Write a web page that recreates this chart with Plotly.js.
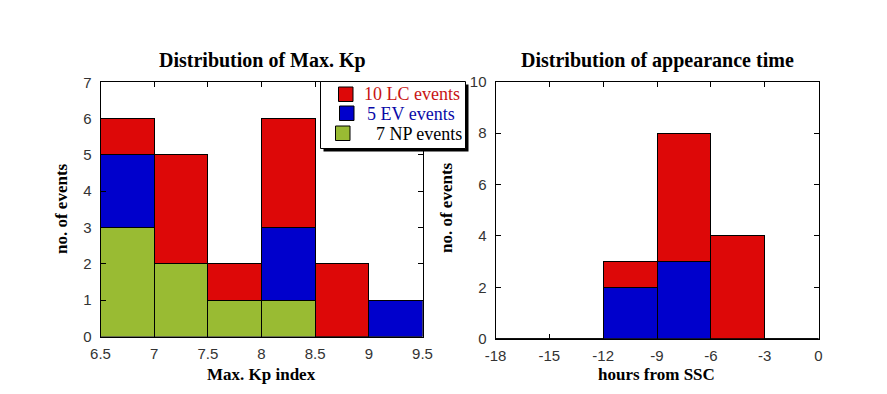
<!DOCTYPE html>
<html>
<head>
<meta charset="utf-8">
<script src="https://cdn.plot.ly/plotly-3.0.1.min.js"></script>
<style>html,body{margin:0;padding:0;background:#fff;}</style>
</head>
<body>
<div id="chart" style="width:887px;height:394px;"></div>
<script>
// Left panel: Max. Kp histogram (bin centres, width 0.5)
const kpBins = [6.75, 7.25, 7.75, 8.25, 8.75, 9.25];
const kpNP = [3, 2, 1, 1, 0, 0];
const kpEV = [2, 0, 0, 2, 0, 1];
const kpLC = [1, 3, 1, 3, 2, 0];
const kpBinWidth = 0.5;

// Right panel: appearance time (bin centres, width 3 h)
const timeBins = [-16.5, -13.5, -10.5, -7.5, -4.5, -1.5];
const timeEV = [0, 0, 2, 3, 0, 0];
const timeLC = [0, 0, 1, 5, 4, 0];
const timeBinWidth = 3;
const timeTickVals = [-18, -15, -12, -9, -6, -3, 0];
const timeTickText = ['-18', '-15', '-12', '-9', '-6', '-3', '0'];

// Legend labels
const seriesKeys = ['LC', 'EV', 'NP'];
const seriesLabels = {LC: '10 LC events', EV: '5 EV events', NP: '7 NP events'};
const labelColors = {LC: '#C81414', EV: '#0A0AA8', NP: '#000000'};
const colors = {LC: '#DD0808', EV: '#0000CC', NP: '#99BB33'};

const W = 887, H = 394;
const px = v => v / W;
const py = v => (H - v) / H;

function bar(x, y, w, key, xa, ya) {
  return {
    type: 'bar', x: x, y: y, width: x.map(() => w),
    xaxis: xa, yaxis: ya, name: seriesLabels[key], showlegend: false,
    marker: {color: colors[key], line: {color: '#000', width: 1}},
    hoverinfo: 'x+y'
  };
}

const data = [
  bar(kpBins, kpNP, kpBinWidth, 'NP', 'x', 'y'),
  bar(kpBins, kpEV, kpBinWidth, 'EV', 'x', 'y'),
  bar(kpBins, kpLC, kpBinWidth, 'LC', 'x', 'y'),
  bar(timeBins, timeEV, timeBinWidth, 'EV', 'x2', 'y2'),
  bar(timeBins, timeLC, timeBinWidth, 'LC', 'x2', 'y2')
];

const tickFont = {family: 'Liberation Sans Narrow, Liberation Sans, Arial, sans-serif', size: 15, color: '#333'};
const axBase = {
  showline: true, linecolor: '#000', linewidth: 1, mirror: 'ticks',
  ticks: 'inside', ticklen: 5, tickcolor: '#000', showgrid: false,
  zeroline: false, tickfont: tickFont, fixedrange: true
};
const xTickGap = {ticklabelstandoff: 3};
const yTickGap = {ticklabelstandoff: 5};
const titleFont = {family: 'Liberation Serif, Times New Roman, serif', size: 20, color: '#000', weight: 'bold'};
const axTitleFont = {family: 'Liberation Serif, Times New Roman, serif', size: 17, color: '#000', weight: 'bold'};
const legendFont = {family: 'Liberation Serif, Times New Roman, serif', size: 18};

// Legend box (paper-pixel geometry)
const legendRows = {
  LC: {sx: 338, sy: 86.5, tx: 362, ty: 93.5},
  EV: {sx: 339, sy: 105.5, tx: 365, ty: 114},
  NP: {sx: 335, sy: 125.5, tx: 374, ty: 133.5}
};
const keySize = 14.5;

const shapes = [
  {type: 'rect', xref: 'paper', yref: 'paper', x0: px(323.5), x1: px(468.5), y0: py(151.5), y1: py(84.5),
   fillcolor: '#000', line: {width: 0}, layer: 'above'},
  {type: 'rect', xref: 'paper', yref: 'paper', x0: px(320.5), x1: px(465.5), y0: py(148.5), y1: py(81.5),
   fillcolor: '#fff', line: {color: '#000', width: 1}, layer: 'above'}
];
const annotations = [
  {text: 'Distribution of Max. Kp', xref: 'paper', yref: 'paper', x: px(262), y: py(61), xanchor: 'center', yanchor: 'middle', showarrow: false, font: titleFont},
  {text: 'Distribution of appearance time', xref: 'paper', yref: 'paper', x: px(657), y: py(61), xanchor: 'center', yanchor: 'middle', showarrow: false, font: titleFont},
  {text: 'Max. Kp index', xref: 'paper', yref: 'paper', x: px(261.5), y: py(374), xanchor: 'center', yanchor: 'middle', showarrow: false, font: axTitleFont},
  {text: 'hours from SSC', xref: 'paper', yref: 'paper', x: px(656), y: py(374), xanchor: 'center', yanchor: 'middle', showarrow: false, font: axTitleFont},
  {text: 'no. of events', xref: 'paper', yref: 'paper', x: px(61), y: py(208), xanchor: 'center', yanchor: 'middle', textangle: -90, showarrow: false, font: axTitleFont},
  {text: 'no. of events', xref: 'paper', yref: 'paper', x: px(446), y: py(208), xanchor: 'center', yanchor: 'middle', textangle: -90, showarrow: false, font: axTitleFont}
];
seriesKeys.forEach(k => {
  const r = legendRows[k];
  shapes.push({type: 'rect', xref: 'paper', yref: 'paper',
    x0: px(r.sx + 0.5), x1: px(r.sx + 0.5 + keySize), y0: py(r.sy + 0.5 + keySize), y1: py(r.sy + 0.5),
    fillcolor: colors[k], line: {color: '#000', width: 1}, layer: 'above'});
  annotations.push({text: seriesLabels[k], xref: 'paper', yref: 'paper', x: px(r.tx), y: py(r.ty),
    xanchor: 'left', yanchor: 'middle', showarrow: false,
    font: Object.assign({}, legendFont, {color: labelColors[k]})});
});

const layout = {
  width: W, height: H,
  margin: {l: 0, r: 0, t: 0, b: 0},
  paper_bgcolor: '#fff', plot_bgcolor: '#fff',
  barmode: 'stack', bargap: 0,
  showlegend: false,
  xaxis: Object.assign({}, axBase, xTickGap, {domain: [px(100.5), px(422.5)], range: [6.5, 9.5], dtick: 0.5, anchor: 'y'}),
  yaxis: Object.assign({}, axBase, yTickGap, {domain: [py(336.5), py(82.3)], range: [0, 7], dtick: 1, anchor: 'x'}),
  xaxis2: Object.assign({}, axBase, xTickGap, {domain: [px(495.5), px(818.5)], range: [-18, 0], tickmode: 'array', tickvals: timeTickVals, ticktext: timeTickText, anchor: 'y2'}),
  yaxis2: Object.assign({}, axBase, yTickGap, {domain: [py(338.8), py(81.7)], range: [0, 10], dtick: 2, anchor: 'x2'}),
  shapes: shapes,
  annotations: annotations
};

Plotly.newPlot('chart', data, layout, {displayModeBar: false, staticPlot: true});
</script>
</body>
</html>
